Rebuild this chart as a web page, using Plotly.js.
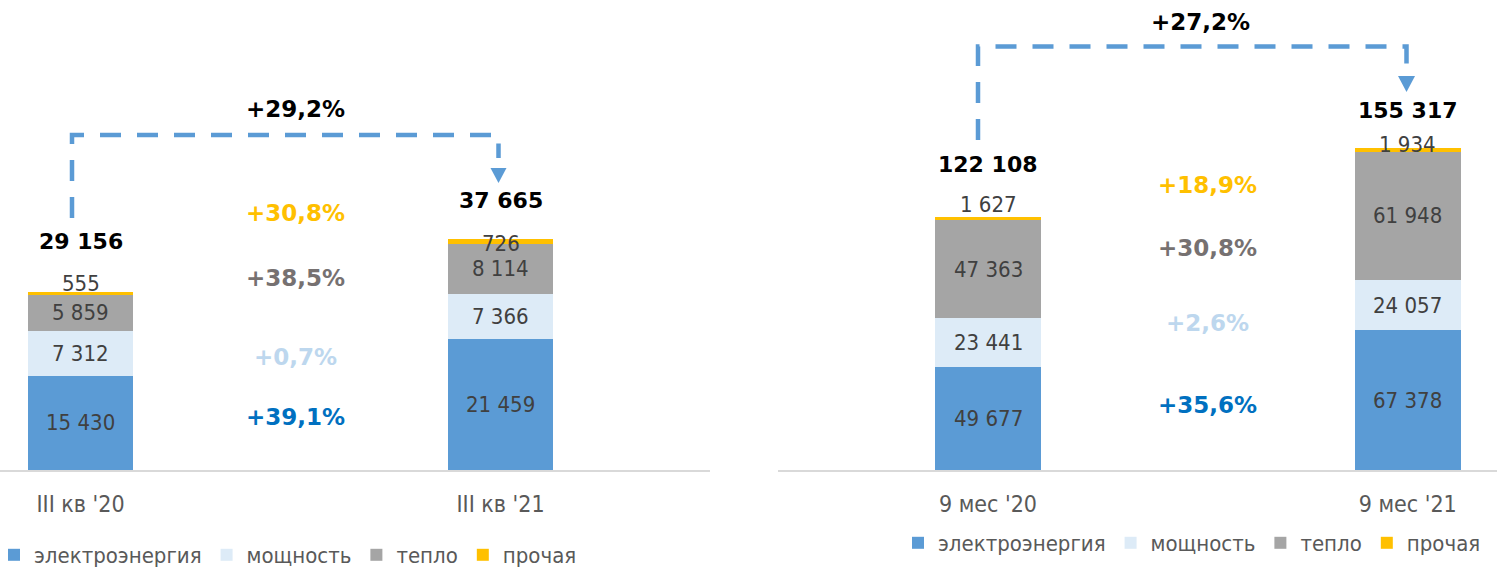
<!DOCTYPE html>
<html><head><meta charset="utf-8">
<script src="https://cdn.plot.ly/plotly-3.0.1.min.js"></script>
<style>html,body{margin:0;padding:0;background:#fff}#chart{width:1497px;height:569px}</style>
</head><body><div id="chart"></div>
<script>
// ---------- data ----------
const seriesNames = ['электроэнергия', 'мощность', 'тепло', 'прочая'];

const qCategories = ["III кв '20", "III кв '21"];
const qElectricity = [15430, 21459];
const qCapacity = [7312, 7366];
const qHeat = [5859, 8114];
const qOther = [555, 726];
const qTotals = [29156, 37665];
const qChanges = ['+39,1%', '+0,7%', '+38,5%', '+30,8%'];
const qTotalChange = '+29,2%';

const nCategories = ["9 мес '20", "9 мес '21"];
const nElectricity = [49677, 67378];
const nCapacity = [23441, 24057];
const nHeat = [47363, 61948];
const nOther = [1627, 1934];
const nTotals = [122108, 155317];
const nChanges = ['+35,6%', '+2,6%', '+30,8%', '+18,9%'];
const nTotalChange = '+27,2%';

// ---------- styles ----------
const seriesColors = ['#5B9BD5', '#DDEBF7', '#A5A5A5', '#FFC000'];
const changeColors = ['#0070C0', '#BDD7EE', '#767171', '#FFC000'];
const W = 1497, PLOT_BOTTOM = 470;
const LBL_FONT = 'DejaVu Sans Condensed, DejaVu Sans, sans-serif';
const BOLD_FONT = 'DejaVu Sans, sans-serif';

const px2x = p => p / W;
const px2y = p => (PLOT_BOTTOM - p) / PLOT_BOTTOM;
const fmt = v => String(v).replace(/\B(?=(\d{3})+(?!\d))/g, ' ');

const panels = [
  {cats: qCategories, series: [qElectricity, qCapacity, qHeat, qOther], totals: qTotals,
   changes: qChanges, totalChange: qTotalChange, xa: 'x', ya: 'y', legend: 'legend', width: 0.25,
   totalShift: [50, 39], otherShift: [8, -4],
   changeX: 295, changeY: [417, 357, 278, 213], totalChangePos: [295, 109],
   conn: {x1: 72, yStart: 218, yTop: 135, x2: 498.5, yEnd: 158, arrTop: 168, arrTip: 183, arrHalf: 8}},
  {cats: nCategories, series: [nElectricity, nCapacity, nHeat, nOther], totals: nTotals,
   changes: nChanges, totalChange: nTotalChange, xa: 'x2', ya: 'y2', legend: 'legend2', width: 0.252,
   totalShift: [52, 37], otherShift: [12, 3],
   changeX: 1207, changeY: [405, 323, 248, 185], totalChangePos: [1200, 22],
   conn: {x1: 978, yStart: 140, yTop: 46.5, x2: 1406.5, yEnd: 68, arrTop: 76, arrTip: 92, arrHalf: 8.5}}
];

const traces = [];
const annotations = [];
const shapes = [];

panels.forEach(p => {
  p.series.forEach((vals, si) => {
    traces.push({
      type: 'bar', x: p.cats, y: vals, name: seriesNames[si],
      xaxis: p.xa, yaxis: p.ya, legend: p.legend,
      marker: {color: seriesColors[si], line: {width: 0}},
      width: p.width, hoverinfo: 'skip'
    });
  });
  // segment labels
  p.cats.forEach((c, ci) => {
    let base = 0;
    p.series.forEach((vals, si) => {
      const v = vals[ci];
      const isOther = si === 3;
      annotations.push({
        xref: p.xa, yref: p.ya, x: c, y: isOther ? base + v : base + v / 2,
        yshift: isOther ? p.otherShift[ci] : 0,
        text: fmt(v), showarrow: false, yanchor: 'middle',
        font: {family: LBL_FONT, size: 22, color: '#404040'}
      });
      base += v;
    });
    annotations.push({
      xref: p.xa, yref: p.ya, x: c, y: p.totals[ci], yshift: p.totalShift[ci],
      text: '<b>' + fmt(p.totals[ci]) + '</b>', showarrow: false, yanchor: 'middle',
      font: {family: BOLD_FONT, size: 22, color: '#000000'}
    });
  });
  // change labels
  p.changes.forEach((t, i) => {
    annotations.push({
      xref: 'paper', yref: 'paper', x: px2x(p.changeX), y: px2y(p.changeY[i]),
      text: '<b>' + t + '</b>', showarrow: false, xanchor: 'center', yanchor: 'middle',
      font: {family: BOLD_FONT, size: 23, color: changeColors[i]}
    });
  });
  annotations.push({
    xref: 'paper', yref: 'paper', x: px2x(p.totalChangePos[0]), y: px2y(p.totalChangePos[1]),
    text: '<b>' + p.totalChange + '</b>', showarrow: false, xanchor: 'center', yanchor: 'middle',
    font: {family: BOLD_FONT, size: 23, color: '#000000'}
  });
  // connector
  const k = p.conn;
  shapes.push({
    type: 'path', xref: 'paper', yref: 'paper',
    path: `M${px2x(k.x1)},${px2y(k.yStart)} L${px2x(k.x1)},${px2y(k.yTop)} L${px2x(k.x2)},${px2y(k.yTop)} L${px2x(k.x2)},${px2y(k.yEnd)}`,
    line: {color: '#5B9BD5', width: 4.5, dash: '21px,16px'}
  });
  shapes.push({
    type: 'path', xref: 'paper', yref: 'paper',
    path: `M${px2x(k.x2 - k.arrHalf)},${px2y(k.arrTop)} L${px2x(k.x2 + k.arrHalf)},${px2y(k.arrTop)} L${px2x(k.x2)},${px2y(k.arrTip)} Z`,
    fillcolor: '#5B9BD5', line: {width: 0}
  });
});

const axisX = (domain, range) => ({
  domain: domain, range: range, type: 'category', fixedrange: true, automargin: false,
  showline: true, linecolor: '#D9D9D9', linewidth: 2, ticks: '', showgrid: false, zeroline: false,
  tickfont: {family: LBL_FONT, size: 23, color: '#595959'}, ticklabelstandoff: 12
});
const axisY = (range) => ({
  range: range, visible: false, showgrid: false, zeroline: false, fixedrange: true, automargin: false
});

const legendStyle = (x, y) => ({
  orientation: 'h', x: x, y: y, xanchor: 'left', yanchor: 'middle', traceorder: 'normal',
  font: {family: LBL_FONT, size: 22, color: '#595959'},
  bgcolor: 'rgba(0,0,0,0)', borderwidth: 0, itemclick: false, itemdoubleclick: false
});

const layout = {
  width: 1497, height: 569,
  margin: {l: 0, r: 0, t: 0, b: 569 - PLOT_BOTTOM, autoexpand: false},
  paper_bgcolor: '#ffffff', plot_bgcolor: '#ffffff',
  barmode: 'stack', showlegend: true,
  xaxis: axisX([0, 710 / W], [-80.5 / 420, (710 - 80.5) / 420]),
  yaxis: axisY([0, 163.4 * PLOT_BOTTOM]),
  xaxis2: axisX([778 / W, 1], [(778 - 988) / 419.7, (1497 - 988) / 419.7]),
  yaxis2: Object.assign(axisY([0, 481.7 * PLOT_BOTTOM]), {anchor: 'x2'}),
  legend: legendStyle(px2x(-6), px2y(555)),
  legend2: legendStyle(px2x(898), px2y(543)),
  annotations: annotations,
  shapes: shapes
};
layout.xaxis2.anchor = 'y2';

Plotly.newPlot('chart', traces, layout, {displayModeBar: false, staticPlot: true});
</script>
</body></html>
